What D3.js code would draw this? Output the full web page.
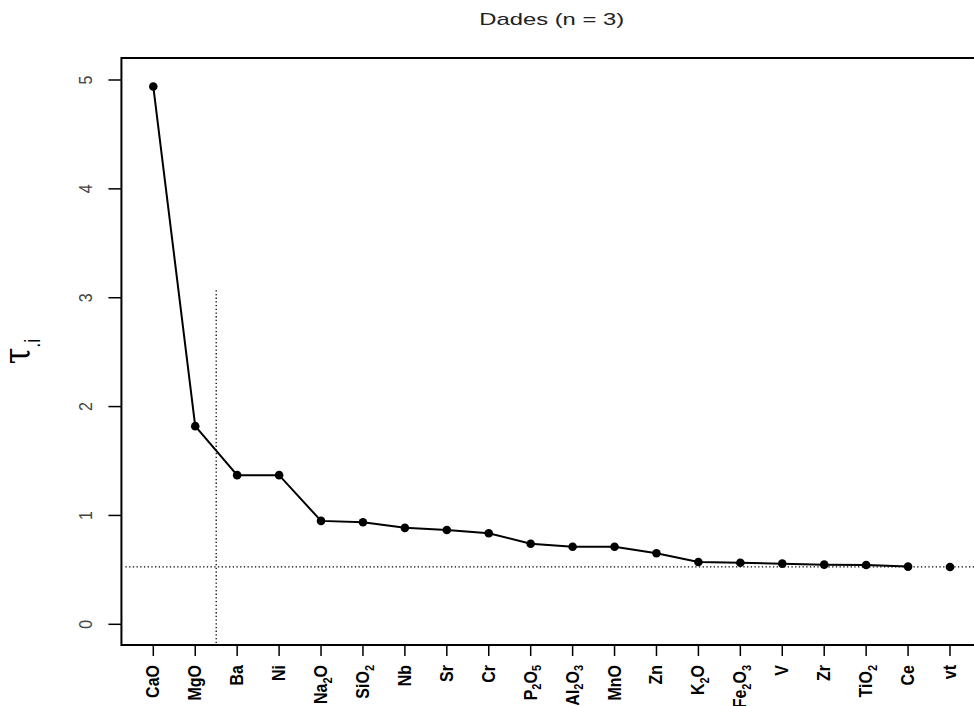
<!DOCTYPE html>
<html>
<head>
<meta charset="utf-8">
<script src="https://cdn.jsdelivr.net/npm/d3@7"></script>
<style>
  html, body { margin: 0; padding: 0; background: #fff; }
  svg { display: block; font-family: "Liberation Sans", Arial, sans-serif; }
</style>
</head>
<body>
<svg id="chart" width="974" height="706"></svg>
<script>
// ---- data ----
const title = "Dades (n = 3)";
const categories = ["CaO","MgO","Ba","Ni","Na2O","SiO2","Nb","Sr","Cr","P2O5","Al2O3","MnO","Zn","K2O","Fe2O3","V","Zr","TiO2","Ce","vt"];
const values = [4.94, 1.82, 1.37, 1.37, 0.95, 0.937, 0.886, 0.866, 0.836, 0.74, 0.713, 0.713, 0.652, 0.572, 0.566, 0.557, 0.548, 0.545, 0.53, 0.527];
const connected = 19;          // first 19 points joined by the line; "vt" stands alone
const yTicks = [0, 1, 2, 3, 4, 5];
const thresholdValue = 0.527;  // horizontal dotted line
const cutPosition = 1.5;       // vertical dotted line, between MgO and Ba (index)
const cutTop = 3.07;

// ---- layout ----
const svg = d3.select("#chart");
const x = d3.scalePoint().domain(categories).range([153.3, 950]);
const step = x.step();
const xIdx = i => x(categories[0]) + i * step;
const y = d3.scaleLinear().domain([0, 5]).range([624.3, 80]);
const box = { left: xIdx(-0.76), right: xIdx(categories.length - 1 + 0.76), top: 58, bottom: 645 };

// title
svg.append("text")
  .attr("transform", `translate(${(box.left + box.right) / 2},25) scale(1.4,1)`)
  .attr("text-anchor", "middle")
  .attr("font-size", 17)
  .attr("fill", "#222")
  .text(title);

// plot box
svg.append("rect")
  .attr("x", box.left).attr("y", box.top)
  .attr("width", box.right - box.left).attr("height", box.bottom - box.top)
  .attr("fill", "none").attr("stroke", "#000").attr("stroke-width", 2);

// y axis ticks + labels
const yg = svg.append("g");
yg.selectAll("line").data(yTicks).join("line")
  .attr("x1", box.left - 13).attr("x2", box.left)
  .attr("y1", d => y(d)).attr("y2", d => y(d))
  .attr("stroke", "#000").attr("stroke-width", 1.5);
yg.selectAll("text").data(yTicks).join("text")
  .attr("transform", d => `translate(91.5,${y(d)}) scale(1.15,1) rotate(-90)`)
  .attr("text-anchor", "middle")
  .attr("font-size", 16)
  .attr("fill", "#444")
  .text(d => d);

// x axis ticks + labels
const xg = svg.append("g");
xg.selectAll("line").data(categories).join("line")
  .attr("x1", d => x(d)).attr("x2", d => x(d))
  .attr("y1", box.bottom + 1).attr("y2", box.bottom + 11)
  .attr("stroke", "#000").attr("stroke-width", 1.5);
const xl = xg.selectAll("text").data(categories).join("text")
  .attr("transform", d => `translate(${x(d) + 6},665) scale(1.2,1) rotate(-90)`)
  .attr("text-anchor", "end")
  .attr("font-size", 16)
  .attr("font-weight", "bold")
  .attr("fill", "#000");
xl.each(function(d) {
  const t = d3.select(this);
  const parts = d.match(/(\d+|\D+)/g);
  let shifted = false;
  parts.forEach(p => {
    const ts = t.append("tspan").text(p);
    if (/^\d+$/.test(p)) {
      ts.attr("font-size", 11).attr("dy", 4);
      shifted = true;
    } else if (shifted) {
      ts.attr("dy", -4);
      shifted = false;
    }
  });
});

// y axis title  tau_.i
const yt = svg.append("text")
  .attr("transform", `translate(29,${(box.top + box.bottom) / 2}) scale(1.25,1) rotate(-90)`)
  .attr("text-anchor", "middle")
  .attr("fill", "#000");
yt.append("tspan").attr("font-size", 30).attr("font-family", "'DejaVu Serif', serif").text("τ");
yt.append("tspan").attr("font-size", 18).attr("dy", 9).text(".i");

// reference lines
svg.append("line")
  .attr("x1", box.left + 4).attr("x2", box.right)
  .attr("y1", y(thresholdValue)).attr("y2", y(thresholdValue))
  .attr("stroke", "#000").attr("stroke-width", 1.3).attr("stroke-dasharray", "1.3,2.4");
svg.append("line")
  .attr("x1", xIdx(cutPosition)).attr("x2", xIdx(cutPosition))
  .attr("y1", box.bottom - 2).attr("y2", y(cutTop))
  .attr("stroke", "#000").attr("stroke-width", 1.3).attr("stroke-dasharray", "1.3,2.4");

// series line
const pts = categories.map((c, i) => ({ c, v: values[i], i }));
svg.append("path")
  .datum(pts.slice(0, connected))
  .attr("d", d3.line().x(d => x(d.c)).y(d => y(d.v)))
  .attr("fill", "none").attr("stroke", "#000").attr("stroke-width", 2);

// points
svg.append("g").selectAll("circle").data(pts).join("circle")
  .attr("cx", d => x(d.c)).attr("cy", d => y(d.v))
  .attr("r", 4.3).attr("fill", "#000");
</script>
</body>
</html>
